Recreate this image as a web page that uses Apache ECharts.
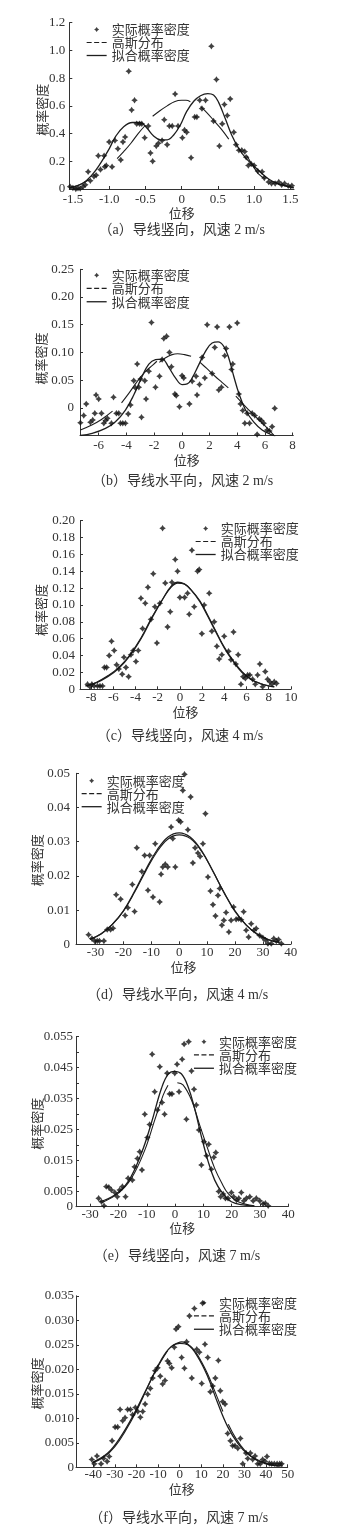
<!DOCTYPE html>
<html>
<head>
<meta charset="utf-8">
<script src="https://cdn.jsdelivr.net/npm/echarts@6/dist/echarts.min.js"></script>
<style>
html, body { margin: 0; padding: 0; background: #fff; }
#echartDiv { width: 344px; height: 1538px; }
</style>
</head>
<body>
<div id="echartDiv"></div>
<script>
// 图例名称
const seriesNames = ["实际概率密度", "高斯分布", "拟合概率密度"];
const captions = [
  "（a）导线竖向，风速 2 m/s",
  "（b）导线水平向，风速 2 m/s",
  "（c）导线竖向，风速 4 m/s",
  "（d）导线水平向，风速 4 m/s",
  "（e）导线竖向，风速 7 m/s",
  "（f）导线水平向，风速 7 m/s",
];

// x 轴刻度
const xTicksA = [-1.5, -1, -0.5, 0, 0.5, 1, 1.5];
const xTicksB = [-6, -4, -2, 0, 2, 4, 6, 8];
const xTicksC = [-8, -6, -4, -2, 0, 2, 4, 6, 8, 10];
const xTicksD = [-30, -20, -10, 0, 10, 20, 30, 40];
const xTicksE = [-30, -20, -10, 0, 10, 20, 30, 40];
const xTicksF = [-40, -30, -20, -10, 0, 10, 20, 30, 40, 50];

// (a) 导线竖向 2 m/s
const scatterA = [[-1.54,0.017],[-1.5,0.008],[-1.46,0],[-1.43,0.005],[-1.4,0.004],[-1.36,0.017],[-1.33,0.03],[-1.29,0.125],[-1.26,0.06],[-1.21,0.09],[-1.18,0.1],[-1.15,0.24],[-1.12,0.14],[-1.07,0.24],[-1.06,0.16],[-1.04,0.17],[-1.0,0.34],[-0.96,0.16],[-0.92,0.35],[-0.88,0.29],[-0.84,0.21],[-0.81,0.34],[-0.78,0.375],[-0.73,0.85],[-0.69,0.57],[-0.65,0.64],[-0.62,0.47],[-0.58,0.47],[-0.55,0.47],[-0.51,0.37],[-0.46,0.455],[-0.43,0.26],[-0.4,0.2],[-0.35,0.31],[-0.32,0.33],[-0.27,0.35],[-0.24,0.5],[-0.2,0.32],[-0.17,0.455],[-0.13,0.455],[-0.09,0.685],[-0.05,0.455],[0.01,0.37],[0.04,0.425],[0.07,0.41],[0.13,0.226],[0.18,0.52],[0.21,0.52],[0.25,0.64],[0.28,0.58],[0.33,0.64],[0.41,1.03],[0.44,0.49],[0.48,0.79],[0.52,0.31],[0.56,0.47],[0.59,0.61],[0.63,0.53],[0.67,0.65],[0.72,0.41],[0.75,0.32],[0.79,0.28],[0.83,0.28],[0.87,0.27],[0.89,0.23],[0.92,0.17],[0.96,0.18],[1.0,0.17],[1.05,0.13],[1.11,0.125],[1.14,0.08],[1.2,0.05],[1.24,0.04],[1.29,0.04],[1.34,0.05],[1.38,0.03],[1.42,0.04],[1.47,0.024],[1.52,0.024]];
const gaussA = [[-1.55,0.008],[-1.45,0.022],[-1.35,0.045],[-1.27,0.07],null,[-0.89,0.22],[-0.8,0.27],[-0.7,0.33],[-0.6,0.4],[-0.5,0.46],null,[-0.4,0.525],[-0.3,0.565],[-0.2,0.6],[-0.1,0.63],[0,0.64],[0.06,0.64],[0.12,0.63],null,[0.26,0.594],[0.35,0.55],[0.45,0.49],[0.55,0.43],[0.65,0.36],null,[0.9,0.24],[0.98,0.17],[1.06,0.11],[1.15,0.075],null,[1.25,0.055],[1.35,0.035],[1.45,0.018],[1.55,0.008]];
const fitA = [[-1.55,0.01],[-1.37,0.04],[-1.24,0.1],[-1.12,0.185],[-1.0,0.29],[-0.91,0.38],[-0.8,0.45],[-0.68,0.48],[-0.57,0.48],[-0.48,0.44],[-0.39,0.385],[-0.29,0.355],[-0.2,0.355],[-0.11,0.39],[-0.02,0.46],[0.07,0.56],[0.17,0.635],[0.26,0.673],[0.36,0.688],[0.44,0.678],[0.51,0.625],[0.6,0.51],[0.69,0.39],[0.79,0.29],[0.88,0.226],[0.97,0.178],[1.08,0.125],[1.2,0.072],[1.31,0.041],[1.43,0.024],[1.54,0.01]];

// (b) 导线水平向 2 m/s
const scatterB = [[-7.32,-0.027],[-7.08,-0.014],[-6.9,0.007],[-6.6,-0.026],[-6.43,-0.022],[-6.28,-0.01],[-6.19,0.023],[-6.0,0.016],[-5.8,-0.01],[-5.63,-0.028],[-5.5,-0.023],[-5.37,-0.019],[-5.08,-0.028],[-4.93,0.019],[-4.72,-0.01],[-4.55,-0.01],[-4.43,-0.028],[-4.26,-0.028],[-4.07,-0.028],[-3.87,-0.011],[-3.7,0.005],[-3.47,0.049],[-3.35,0.036],[-3.22,0.079],[-3.1,0.037],[-2.98,0.052],[-2.91,-0.017],[-2.67,0.049],[-2.58,0.016],[-2.38,0.066],[-2.19,0.154],[-1.9,0.037],[-1.61,0.057],[-1.42,0.087],[-1.3,0.125],[-1.1,0.129],[-0.89,0.1],[-0.75,0.074],[-0.5,0.025],[-0.4,0.022],[-0.17,0.002],[0.02,0.058],[0.14,0.054],[0.55,0.007],[0.75,0.048],[1.03,0.057],[1.1,0.023],[1.28,0.042],[1.47,0.091],[1.66,0.054],[1.83,0.15],[2.19,0.062],[2.38,0.109],[2.55,0.146],[2.67,0.032],[2.86,0.037],[3.1,0.094],[3.2,0.107],[3.44,0.146],[3.59,0.069],[3.68,0.079],[4.0,0.153],[4.12,0.025],[4.24,0.007],[4.4,-0.005],[4.55,-0.028],[4.72,-0.01],[4.89,-0.028],[5.08,-0.01],[5.27,-0.014],[5.44,-0.048],[5.6,-0.02],[5.75,-0.023],[5.92,-0.028],[6.16,-0.04],[6.33,-0.042],[6.52,-0.034],[6.71,-0.001]];
const gaussB = [[-7.32,-0.04],[-6.5,-0.031],[-5.8,-0.021],[-5.0,-0.006],null,[-4.35,0.009],[-3.8,0.027],[-3.2,0.048],[-2.6,0.066],[-2.1,0.077],[-1.8,0.084],null,[-1.62,0.082],[-1.2,0.09],[-0.7,0.096],[-0.3,0.0975],[0.2,0.096],[0.67,0.093],null,[1.32,0.082],[1.8,0.071],[2.4,0.057],[2.9,0.046],[3.36,0.036],null,[3.9,0.021],[4.5,0.005],[5.0,-0.008],[5.5,-0.02],[6.1,-0.035],[6.7,-0.051]];
const fitB = [[-7.32,-0.05],[-6.47,-0.046],[-5.51,-0.037],[-4.79,-0.025],[-4.07,-0.004],[-3.47,0.023],[-2.86,0.057],[-2.38,0.079],[-1.9,0.087],[-1.42,0.088],[-0.94,0.073],[-0.46,0.054],[0.02,0.042],[0.39,0.043],[0.75,0.054],[1.23,0.078],[1.71,0.102],[2.19,0.117],[2.62,0.119],[3.03,0.111],[3.39,0.09],[3.75,0.057],[4.12,0.026],[4.6,-0.004],[5.2,-0.026],[5.8,-0.04],[6.5,-0.049],[6.75,-0.051]];

// (c) 导线竖向 4 m/s
const scatterC = [[-8.32,0.006],[-8.1,0.003],[-7.93,0.006],[-7.72,0.004],[-7.42,0.004],[-7.2,0.004],[-6.97,0.004],[-6.8,0.026],[-6.6,0.026],[-6.37,0.04],[-6.16,0.057],[-5.92,0.046],[-5.7,0.029],[-5.5,0.024],[-5.2,0.018],[-5.04,0.038],[-4.86,0.026],[-4.62,0.015],[-4.41,0.041],[-4.2,0.046],[-3.96,0.033],[-3.75,0.046],[-3.51,0.108],[-3.36,0.072],[-3.12,0.102],[-2.88,0.121],[-2.61,0.083],[-2.4,0.137],[-2.25,0.098],[-2.07,0.055],[-1.8,0.102],[-1.56,0.191],[-1.32,0.126],[-1.11,0.074],[-0.87,0.092],[-0.72,0.127],[-0.42,0.154],[-0.21,0.14],[0,0.109],[0.42,0.109],[0.69,0.114],[0.84,0.089],[1.08,0.165],[1.29,0.098],[1.59,0.14],[1.74,0.142],[1.98,0.066],[2.19,0.1],[2.64,0.114],[2.88,0.069],[3.09,0.08],[3.33,0.051],[3.54,0.036],[3.78,0.041],[3.99,0.063],[4.38,0.045],[4.6,0.035],[4.83,0.068],[5.04,0.03],[5.25,0.041],[5.5,0.006],[5.7,0.015],[5.9,0.013],[6.1,0.017],[6.3,0.017],[6.55,0.012],[6.79,0.006],[7.0,0.017],[7.2,0.03],[7.45,0.003],[7.69,0.021],[7.9,0.012],[8.1,0.009],[8.29,0.006],[8.5,0.009],[8.7,0.007]];
const gaussC = [[-8.5,0.004],[-7.5,0.0085],[-6.5,0.016],[-5.5,0.026],[-4.5,0.041],[-3.5,0.061],[-2.5,0.086],[-1.5,0.108],[-0.8,0.121],[-0.2,0.126],[0.4,0.125],[1.0,0.118],[1.8,0.105],[2.5,0.088],[3.2,0.07],[4.0,0.05],[4.8,0.034],[5.6,0.021],[6.4,0.012],[7.2,0.007],[8.0,0.004],[8.5,0.003]];
const fitC = [[-8.5,0.004],[-7.5,0.008],[-6.5,0.015],[-5.5,0.025],[-4.5,0.04],[-3.5,0.06],[-2.5,0.085],[-1.5,0.108],[-0.8,0.122],[-0.2,0.127],[0.4,0.125],[1.0,0.118],[1.8,0.104],[2.5,0.087],[3.2,0.069],[4.0,0.049],[4.8,0.033],[5.6,0.02],[6.4,0.012],[7.2,0.007],[8.0,0.004],[8.5,0.003]];

// (d) 导线水平向 4 m/s
const scatterD = [[-32.5,0.0028],[-31.3,0.0017],[-30.3,0.001],[-29.4,0.001],[-28.6,0.001],[-27,0.001],[-25.8,0.0043],[-24.6,0.0043],[-23.7,0.0047],[-22.6,0.0145],[-21,0.0132],[-19.4,0.0084],[-18.4,0.0107],[-16.8,0.0175],[-16,0.0096],[-15.2,0.0282],[-13.4,0.0213],[-12.4,0.026],[-11.2,0.0158],[-10.6,0.026],[-9.4,0.0138],[-8.6,0.0294],[-7,0.0124],[-6.5,0.0205],[-5.9,0.0226],[-5,0.0234],[-4.1,0.0226],[-2.9,0.0343],[-2.3,0.0309],[-1.4,0.0226],[-0.2,0.0363],[0.5,0.0358],[1.3,0.045],[1.9,0.0497],[3.1,0.0335],[4.1,0.0431],[4.9,0.0238],[5.7,0.0282],[6.7,0.0267],[7.5,0.0257],[8.5,0.0294],[9.4,0.0382],[10.3,0.0197],[11.2,0.0156],[12.1,0.0116],[13,0.0083],[13.9,0.0143],[14.5,0.0163],[15.3,0.0056],[16,0.007],[16.8,0.0093],[17.8,0.0036],[18.6,0.007],[19.5,0.0109],[20.4,0.0073],[21.3,0.0075],[22.2,0.0072],[23.1,0.0095],[24,0.0041],[24.9,0.0021],[25.8,0.006],[26.8,0.0041],[27.6,0.0046],[28.8,0.0026],[30,0.0019],[31,0.0012],[31.8,0.0002],[33,0.0002],[33.9,0.0017],[34.8,0.001],[35.6,0.0014],[36.6,0.0002]];
const gaussD = [[-32,0.0015],[-28,0.0031],[-24,0.0058],[-20,0.0097],[-16,0.0152],[-12,0.0214],[-8,0.027],[-4,0.0308],[0,0.032],[4,0.0309],[8,0.0272],[12,0.0215],[16,0.0153],[20,0.0098],[24,0.0057],[28,0.003],[32,0.0014],[36,0.0006]];
const fitD = [[-32,0.0014],[-28,0.003],[-24,0.0058],[-20,0.0098],[-16,0.0155],[-12,0.0218],[-8,0.0275],[-4,0.0314],[0,0.0326],[4,0.0313],[8,0.0274],[12,0.0215],[16,0.0152],[20,0.0096],[24,0.0056],[28,0.0029],[32,0.0013],[36,0.0005]];

// (e) 导线竖向 7 m/s
const scatterE = [[-27,0.0027],[-26,0.0016],[-25.1,0.0003],[-24.3,0.0065],[-23.4,0.0063],[-22.5,0.0054],[-21.3,0.0046],[-20.4,0.0032],[-19.6,0.0054],[-18.6,0.0065],[-17.5,0.0032],[-16.6,0.0092],[-15.1,0.0086],[-14.3,0.0129],[-13.3,0.0156],[-12.5,0.0178],[-11.7,0.0119],[-10.7,0.0299],[-9.8,0.0224],[-9,0.0266],[-8.1,0.0493],[-7.2,0.0372],[-6.2,0.0313],[-5.4,0.0453],[-4.6,0.0337],[-3.7,0.0299],[-2.8,0.0432],[-1.9,0.0365],[-1.1,0.0365],[-0.1,0.0432],[0.7,0.0461],[1.4,0.0372],[2.5,0.0477],[3.2,0.0526],[4,0.0283],[4.8,0.0534],[5.8,0.0439],[6.7,0.038],[7.5,0.0329],[8.4,0.0248],[9.3,0.0135],[10.2,0.021],[11.1,0.0165],[11.9,0.0202],[12.8,0.0121],[13.7,0.016],[14.4,0.0175],[15.4,0.0049],[16.1,0.0032],[17,0.0041],[17.8,0.0027],[18.7,0.0027],[19.9,0.0046],[20.7,0.0032],[21.7,0.0022],[22.5,0.0027],[23.4,0.0046],[24.3,0.0019],[25.2,0.0027],[26.4,0.0032],[27.6,0.0019],[28.7,0.0027],[29.9,0.0019],[31.1,0.0009],[31.9,0.0011],[32.9,0.0003]];
const gaussE = [[-26,0.0013],[-20.1,0.0043],[-15.4,0.0092],[-10.7,0.0183],[-7.2,0.028],[-4.2,0.0361],[-2.5,0.0393],null,[0.8,0.0401],[2.8,0.0394],[5.8,0.0345],[8.7,0.0264],[11.7,0.0183],[14,0.0124],[16.4,0.0078],[18.7,0.0043],[22.3,0.0016],[28,0.0003]];
const fitE = [[-26.6,0.0016],[-21.3,0.0038],[-16.6,0.0081],[-11.9,0.0173],[-8.4,0.027],[-4.8,0.0383],[-2.5,0.0428],[-0.3,0.0438],[2.2,0.043],[4.6,0.0388],[6.9,0.0318],[9.3,0.0227],[11.7,0.0146],[14,0.0086],[16.4,0.0049],[19.9,0.0016],[24.6,0.0005],[28,0.0002]];

// (f) 导线水平向 7 m/s
const scatterF = [[-40.7,0.0016],[-39.5,0.0007],[-38.3,0.0023],[-36.4,0.0007],[-35.2,0.0018],[-33.6,0.0012],[-32.6,0.0022],[-31.3,0.0054],[-29.9,0.0082],[-28.7,0.0082],[-27.6,0.0118],[-26.4,0.0095],[-25.3,0.0101],[-24.1,0.0118],[-22.8,0.0118],[-21.8,0.0107],[-20.5,0.0122],[-19.4,0.0114],[-18.2,0.0102],[-17.1,0.0114],[-16,0.0129],[-14.8,0.0149],[-13.6,0.0161],[-12.5,0.0182],[-11.4,0.0197],[-10.2,0.0203],[-9,0.0186],[-7.9,0.017],[-6.8,0.0177],[-5.6,0.0217],[-4.8,0.0212],[-3.7,0.0203],[-2.5,0.0245],[-1.7,0.0282],[-0.6,0.0287],[0.9,0.0224],[2.2,0.0202],[3.2,0.0256],[4.5,0.0309],[5.6,0.0182],[6.8,0.0324],[7.9,0.0241],[9.1,0.0235],[10.2,0.0171],[10.6,0.0335],[11.7,0.0251],[13,0.0224],[14.2,0.0154],[15.3,0.0166],[16.5,0.0182],[17.9,0.0218],[18.8,0.0156],[19.9,0.0134],[21,0.0129],[22.2,0.0069],[23.5,0.0054],[24.5,0.0044],[25.6,0.0044],[26.9,0.0039],[28.1,0.0059],[29.2,0.0007],[30.7,0.0029],[31.5,0.0018],[32.7,0.0029],[33.8,0.0016],[34.9,0.0023],[36.1,0.0007],[37.3,0.0007],[38.4,0.0016],[39.5,0.0012],[40.4,0.0022],[41.5,0.0008],[42.6,0.0007],[43.8,0.0007],[45.1,0.0007],[46.3,0.0007],[47.2,0.0007]];
const gaussF = [[-40.5,0.0009],[-35,0.0021],[-30,0.0042],[-25,0.0075],[-20,0.0115],[-15,0.0162],[-10,0.0206],[-5.6,0.0238],null,[-3,0.0249],[1,0.0256],[5,0.0247],[7.7,0.0233],[10,0.0216],[13,0.019],[16,0.0158],[20,0.0114],null,[22.5,0.0088],[26,0.0059],[30,0.0035],[35,0.0016],[40,0.0007],[46,0.0002]];
const fitF = [[-40.3,0.001],[-33.3,0.0029],[-27.2,0.0063],[-21,0.011],[-14.8,0.0165],[-8.6,0.0219],[-4,0.0246],[0,0.0253],[3.7,0.025],[8.3,0.0226],[13,0.0185],[17.6,0.0131],[22.2,0.0083],[26.9,0.0049],[31.5,0.0027],[36.1,0.0015],[42.3,0.0005],[47.7,0.0003]];

const scatters = [scatterA, scatterB, scatterC, scatterD, scatterE, scatterF];
const gausses = [gaussA, gaussB, gaussC, gaussD, gaussE, gaussF];
const fits = [fitA, fitB, fitC, fitD, fitE, fitF];
const xTicks = [xTicksA, xTicksB, xTicksC, xTicksD, xTicksE, xTicksF];

const serifFont = "'Liberation Serif', 'Noto Sans CJK SC', serif";
const cjkFont = "'Noto Sans CJK SC', 'Liberation Serif', sans-serif";
const textColor = "#333";
const lineColor = "#1e1e1e";
const starSymbol = "path://M0,-5 L2,-2 L5,0 L2,2 L0,5 L-2,2 L-5,0 L-2,-2 Z";

// 每个子图的布局
const grids = [
  { left: 69.3, top: 22.7, width: 224.7, height: 166.3 },
  { left: 80, top: 269.3, width: 213.3, height: 166.2 },
  { left: 80, top: 520.7, width: 210.9, height: 168.6 },
  { left: 76, top: 773.3, width: 214.8, height: 171 },
  { left: 76, top: 1036.7, width: 212.3, height: 170 },
  { left: 76, top: 1295.8, width: 211.7, height: 171.5 },
];
const xRanges = [[-1.55, 1.55], [-7.35, 8.05], [-9, 10], [-37, 40], [-35, 40], [-48, 50]];
const yRanges = [[0, 1.2, 0.2], [-0.05, 0.25, 0.05], [0, 0.2, 0.02], [0, 0.05, 0.01], [0, 0.055, 0.005], [0, 0.035, 0.005]];
const xLabelMargin = [4, 4, 2, 2, 1, 1];
const xNameGap = [14, 15, 14, 15, 13, 14];
const yLabelMargin = [4, 6, 5, 6, 3, 2];
const yNameGap = [21, 32, 32, 32, 32, 32];
const yNameShift = [8, 12, 10, 3, 4, 4];
const legendPos = [
  { left: 86, top: 23, lh: 12.5 },
  { left: 86, top: 268.5, lh: 13.3 },
  { left: 195, top: 522, lh: 12.5 },
  { left: 81, top: 774.2, lh: 13 },
  { left: 193.3, top: 1035, lh: 13.3 },
  { left: 193.3, top: 1296, lh: 13.3 },
];
const captionPos = [[181.7, 230], [182.5, 481.7], [180, 736.7], [177.5, 995], [177, 1256.7], [178.7, 1518.3]];

function yFormatter(i) {
  return function (v) {
    if (Math.abs(v) < 1e-9) return "0";
    if (v < 0) return "";
    if (i === 0) return v.toFixed(1);
    if (i === 4) {
      const n = Math.round(v / 0.005);
      return n % 2 === 1 ? v.toFixed(3) : "";
    }
    if (i === 5) return v.toFixed(3);
    return v.toFixed(2);
  };
}

function xFormatter(i) {
  return function (v) {
    if (Math.abs(v) < 1e-9) return "0";
    return i === 0 ? v.toFixed(1) : String(v);
  };
}

function initChart() {
  let chartDom = document.getElementById("echartDiv");
  let myChart = echarts.init(chartDom, null, { renderer: "canvas" });

  let option = {
    animation: false,
    backgroundColor: "#fff",
    grid: [],
    xAxis: [],
    yAxis: [],
    legend: [],
    series: [],
    graphic: [],
  };

  // 图例里线条不画圆点
  const hiddenDot = { color: "rgba(0,0,0,0)", borderWidth: 0, opacity: 0 };

  for (let i = 0; i < 6; i++) {
    option.grid.push(Object.assign({ containLabel: false }, grids[i]));
    option.xAxis.push({
      type: "value",
      gridIndex: i,
      min: xRanges[i][0],
      max: xRanges[i][1],
      name: "位移",
      nameLocation: "middle",
      nameGap: xNameGap[i],
      nameTextStyle: { fontFamily: cjkFont, fontSize: 13, color: textColor },
      axisLine: { show: true, onZero: false, lineStyle: { color: "#333", width: 1 } },
      axisTick: { show: true, inside: true, length: 3, customValues: xTicks[i], lineStyle: { color: "#333" } },
      axisLabel: {
        customValues: xTicks[i],
        margin: xLabelMargin[i],
        fontFamily: serifFont,
        fontSize: 13,
        color: textColor,
        formatter: xFormatter(i),
      },
      splitLine: { show: false },
    });
    option.yAxis.push({
      type: "value",
      gridIndex: i,
      min: yRanges[i][0],
      max: yRanges[i][1],
      interval: yRanges[i][2],
      name: "概率密度",
      nameLocation: "middle",
      nameRotate: 90,
      nameGap: yNameGap[i],
      nameMoveOverlap: false,
      nameTextStyle: {
        fontFamily: cjkFont,
        fontSize: 13,
        color: textColor,
        padding: [0, yNameShift[i], 0, 0],
      },
      axisLine: { show: true, onZero: false, lineStyle: { color: "#333", width: 1 } },
      axisTick: { show: true, inside: true, length: 3, lineStyle: { color: "#333" } },
      axisLabel: {
        margin: yLabelMargin[i],
        fontFamily: serifFont,
        fontSize: 13,
        color: textColor,
        showMinLabel: true,
        showMaxLabel: true,
        formatter: yFormatter(i),
      },
      splitLine: { show: false },
    });
    option.legend.push({
      left: legendPos[i].left,
      top: legendPos[i].top,
      orient: "vertical",
      padding: 0,
      itemGap: 0,
      itemWidth: 20,
      itemHeight: 5,
      selectedMode: false,
      textStyle: { fontFamily: cjkFont, fontSize: 13, lineHeight: legendPos[i].lh, color: textColor },
      data: [
        { name: seriesNames[0] },
        { name: seriesNames[1], itemStyle: hiddenDot, lineStyle: { type: [5, 2.5], width: 1.2, color: lineColor } },
        { name: seriesNames[2], itemStyle: hiddenDot, lineStyle: { width: 1.3, color: lineColor } },
      ],
    });
    option.series.push(
      {
        name: seriesNames[0],
        type: "scatter",
        xAxisIndex: i,
        yAxisIndex: i,
        symbol: starSymbol,
        symbolSize: 6.5,
        itemStyle: { color: "#111" },
        data: scatters[i],
        z: 3,
      },
      {
        name: seriesNames[1],
        type: "line",
        xAxisIndex: i,
        yAxisIndex: i,
        symbol: "none",
        showSymbol: false,
        smooth: 0.4,
        connectNulls: false,
        itemStyle: { color: lineColor },
        lineStyle: { color: lineColor, width: 1.1 },
        data: gausses[i],
        z: 2,
      },
      {
        name: seriesNames[2],
        type: "line",
        xAxisIndex: i,
        yAxisIndex: i,
        symbol: "none",
        showSymbol: false,
        smooth: 0.4,
        itemStyle: { color: lineColor },
        lineStyle: { color: lineColor, width: 1.3 },
        data: fits[i],
        z: 2,
      }
    );
    option.graphic.push({
      type: "text",
      x: captionPos[i][0],
      y: captionPos[i][1],
      style: {
        text: captions[i],
        fill: textColor,
        fontFamily: serifFont,
        fontSize: 14,
        align: "center",
        verticalAlign: "middle",
      },
    });
  }

  option && myChart.setOption(option);
}

initChart();
</script>
</body>
</html>
